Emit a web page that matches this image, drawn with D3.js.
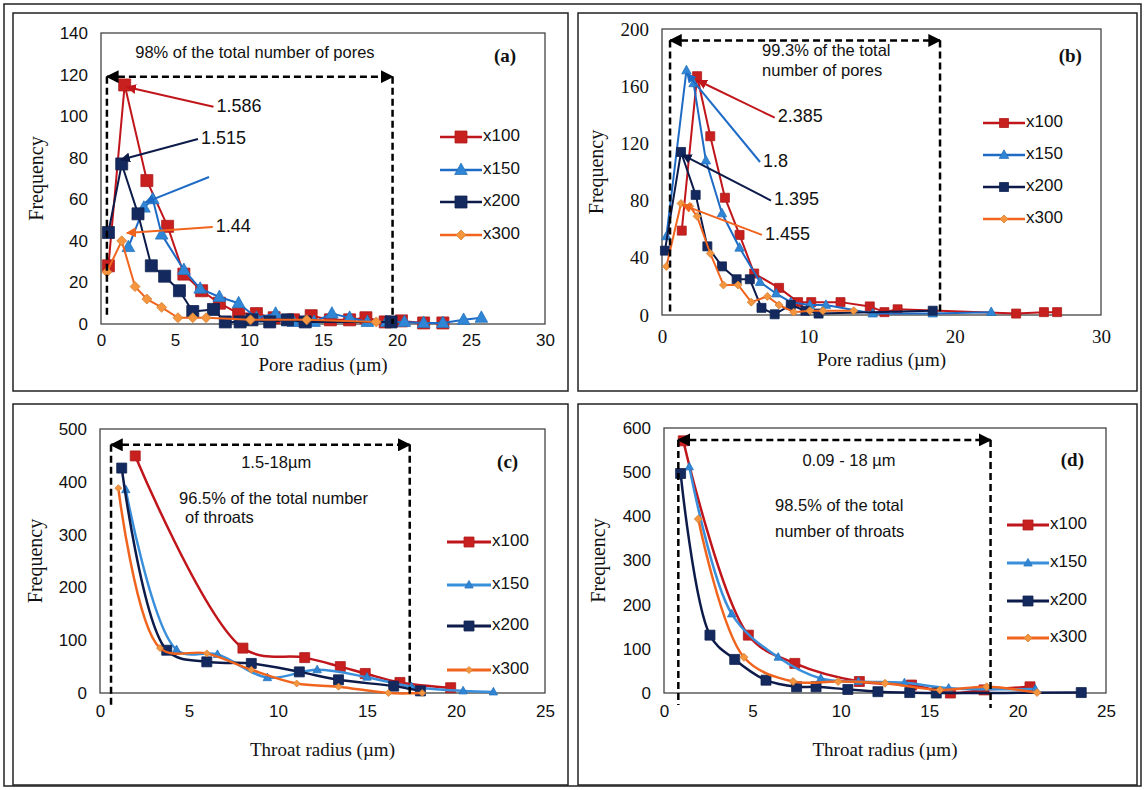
<!DOCTYPE html>
<html><head><meta charset="utf-8">
<script src="https://cdn.jsdelivr.net/npm/d3@7"></script>
<style>body{margin:0;background:#fff;} svg{display:block;}</style>
</head><body><svg id="c" width="1145" height="790"></svg>
<script>
// ---------- DATA ----------
const seriesNames = ["x100", "x150", "x200", "x300"];

// (a) pore radius, first sample
const a100 = [[0.5,28],[1.6,115],[3.1,69],[4.5,47],[5.6,24],[6.8,16],[8.0,10],[9.3,5],[10.5,5],[11.7,3],[13.0,2],[14.2,4],[15.5,2],[16.8,2],[17.9,3],[19.2,1],[20.3,1.5],[21.8,0.5],[23.1,0.5]];
const a150 = [[1.85,37],[2.9,56],[3.5,60],[4.1,43],[5.6,26],[6.7,17],[8.0,13],[9.3,10],[10.5,3],[11.8,5],[13.0,1],[14.4,1],[15.6,5],[16.8,3],[18.0,1],[19.3,1],[20.5,1],[21.8,0.5],[23.1,0.5],[24.5,2],[25.7,3]];
const a200 = [[0.5,44],[1.4,77],[2.5,53],[3.4,28],[4.3,23],[5.3,16],[6.2,6],[7.6,7],[8.4,1],[9.4,1],[10.2,2],[11.4,1],[12.6,2],[13.8,1],[19.6,1]];
const a300 = [[0.4,25],[1.4,40],[2.3,18],[3.1,12],[4.1,8],[5.2,3],[6.2,3],[7.1,3],[10.1,2],[13.9,2],[18.6,1]];

// (b) pore radius, second sample
const b100 = [[1.35,59],[2.4,167],[3.3,125],[4.3,82],[5.3,56],[6.3,29],[8.0,19],[9.3,9],[10.2,9],[12.2,9],[14.2,6],[15.2,2],[16.1,4],[24.2,1],[26.1,2],[27.0,2]];
const b150 = [[0.3,55],[1.67,171],[2.16,162],[3.0,108],[4.1,71],[5.3,47],[6.7,23],[7.8,15],[8.8,9],[10.1,7],[11.2,7],[14.4,1],[18.5,1],[22.5,2]];
const b200 = [[0.2,45],[1.3,114],[2.3,84],[3.1,48],[4.1,34],[5.1,25],[6.0,25],[6.8,5],[7.7,0.5],[8.8,7],[9.8,3],[10.7,1],[18.5,3]];
const b300 = [[0.3,34],[1.3,78],[1.9,76],[2.4,69],[3.3,43],[4.2,21],[5.2,21],[6.1,9],[7.2,13],[8.0,7],[9.0,2],[10.1,3],[11.0,3],[13.1,3]];

// (c) throat radius, first sample
const c100 = [[1.98,449],[8.03,85],[11.5,67],[13.5,50],[14.9,37],[16.85,20],[19.7,10]];
const c150 = [[1.45,385],[4.3,82],[6.6,73],[9.4,29],[12.2,44],[15.0,30],[17.5,12],[20.4,4],[22.1,2]];
const c200 = [[1.22,426],[3.75,81],[6.0,59],[8.5,56],[11.2,40],[13.4,25],[16.5,13],[18.0,4]];
const c300 = [[1.03,388],[3.37,85],[6.0,75],[8.5,44],[11.05,18],[13.4,12],[16.2,0],[18.1,0]];

// (d) throat radius, second sample
const d100 = [[1.09,571],[4.77,131],[7.4,67],[11.05,26],[14.0,18],[16.2,0],[18.1,7],[20.7,14]];
const d150 = [[1.43,512],[3.83,179],[6.46,81],[8.87,33],[11.0,26],[13.6,23],[16.1,11],[21.0,9]];
const d200 = [[0.94,497],[2.6,131],[4.0,76],[5.77,29],[7.5,14],[8.6,14],[10.4,8],[12.1,3],[13.9,1],[15.4,0],[23.6,1]];
const d300 = [[1.94,394],[4.52,81],[7.3,26],[9.85,26],[12.5,22],[15.6,7],[18.25,14],[21.1,1]];

// tick labels
const aXTicks = [0,5,10,15,20,25,30];
const aYTicks = [0,20,40,60,80,100,120,140];
const bXTicks = [0,10,20,30];
const bYTicks = [0,40,80,120,160,200];
const cXTicks = [0,5,10,15,20,25];
const cYTicks = [0,100,200,300,400,500];
const dXTicks = [0,5,10,15,20,25];
const dYTicks = [0,100,200,300,400,500,600];

// annotation labels [text, lineStart(x,y), tip(x,y), seriesIndex]
const aPeaks = [["1.586",[7.6,104.5],[1.75,114],0],["1.515",[6.55,89],[1.35,79],2],["",[7.3,70.7],[3.0,58.5],1],["1.44",[7.55,46.7],[1.75,43.8],3]];
const bPeaks = [["2.385",[7.7,138],[2.45,164],0],["1.8",[6.7,107],[1.7,169],1],["1.395",[7.45,80],[1.4,112],2],["1.455",[6.83,56],[1.4,77],3]];

// ---------- STYLE ----------
const lineCol = ["#C0161B", "#1E6BC6", "#0D1B4A", "#F0641E"];
const markCol = ["#C8201E", "#2F86D6", "#14295E", "#F5963F"];
const lineColLight150 = "#3A8FDA";

const svg = d3.select("#c");
const defs = svg.append("defs");
function arrowMarker(id, col, size) {
  defs.append("marker").attr("id", id).attr("viewBox", "0 0 10 10").attr("refX", 9).attr("refY", 5)
    .attr("markerWidth", size).attr("markerHeight", size).attr("markerUnits", "userSpaceOnUse")
    .attr("orient", "auto-start-reverse")
    .append("path").attr("d", "M0,0L10,5L0,10z").attr("fill", col);
}
arrowMarker("arrK", "#000", 13);
lineCol.forEach((c, i) => arrowMarker("arr" + i, c, 10));

svg.append("rect").attr("x", 4).attr("y", 4).attr("width", 1137).attr("height", 782)
  .attr("fill", "none").attr("stroke", "#222").attr("stroke-width", 1.5);

function markerPath(shape, s) {
  const h = s / 2;
  if (shape === "sq") return `M${-h},${-h}H${h}V${h}H${-h}Z`;
  if (shape === "tri") return `M0,${-h * 1.15}L${h * 1.05},${h * 0.75}L${-h * 1.05},${h * 0.75}Z`;
  return `M0,${-h}L${h},0L0,${h}L${-h},0Z`;
}
const shapes = ["sq", "tri", "sq", "dia"];

const sansFont = "Liberation Sans, Arial, sans-serif";
const serifFont = "Liberation Serif, Times New Roman, serif";

const panels = [
  { label: "(a)", frame: [13, 13, 568, 391], plot: [101, 545, 33, 324], xDom: [0, 30], yDom: [0, 140],
    xTicks: aXTicks, yTicks: aYTicks, tickFont: sansFont, tickSize: 17, xPad: 10,
    xTitle: "Pore radius (µm)", xTitleY: 367, yTitleX: 38, series: [a100, a150, a200, a300],
    curve: d3.curveLinear, ms: [12, 12, 12, 10], lw: 2, col150: lineCol[1],
    legend: { x1: 440, x2: 482, ys: [137, 170, 202, 235] },
    box: { x1: 0.4, x2: 19.7, yTop: 119, yB1: 3, yB2: 0 },
    texts: [["98% of the total number of pores", 10.4, 130, "middle"]],
    labelPos: [27.3, 128], peaks: aPeaks },
  { label: "(b)", frame: [578, 13, 1137, 391], plot: [662, 1101, 29, 315], xDom: [0, 30], yDom: [0, 200],
    xTicks: bXTicks, yTicks: bYTicks, tickFont: serifFont, tickSize: 19, xPad: 15,
    xTitle: "Pore radius (µm)", xTitleY: 362, yTitleX: 598, series: [b100, b150, b200, b300],
    curve: d3.curveLinear, ms: [9, 9, 9, 8], lw: 2, col150: lineCol[1],
    legend: { x1: 983, x2: 1025, ys: [123, 155, 187, 219] },
    box: { x1: 0.55, x2: 19.0, yTop: 192, yB1: 0, yB2: 0 },
    texts: [["99.3% of the total", 6.84, 184, "start"], ["number of pores", 6.84, 170, "start"]],
    labelPos: [27.9, 180], peaks: bPeaks },
  { label: "(c)", frame: [13, 404, 568, 785], plot: [100, 545, 429, 693], xDom: [0, 25], yDom: [0, 500],
    xTicks: cXTicks, yTicks: cYTicks, tickFont: sansFont, tickSize: 17, xPad: 12,
    xTitle: "Throat radius (µm)", xTitleY: 752, yTitleX: 37, series: [c100, c150, c200, c300],
    curve: d3.curveCatmullRom.alpha(0.5), ms: [10, 8, 10, 7], lw: 2.5, col150: lineColLight150,
    legend: { x1: 447, x2: 491, ys: [542, 585, 626, 670] },
    box: { x1: 0.62, x2: 17.4, yTop: 470, yB1: -28, yB2: -8 },
    texts: [["1.5-18µm", 9.9, 435, "middle"], ["96.5% of the total number", 4.44, 367, "start"], ["of throats", 4.78, 331, "start"]],
    labelPos: [22.9, 435], peaks: [] },
  { label: "(d)", frame: [578, 404, 1137, 785], plot: [664, 1106, 428, 693], xDom: [0, 25], yDom: [0, 600],
    xTicks: dXTicks, yTicks: dYTicks, tickFont: sansFont, tickSize: 17, xPad: 12,
    xTitle: "Throat radius (µm)", xTitleY: 752, yTitleX: 600, series: [d100, d150, d200, d300],
    curve: d3.curveCatmullRom.alpha(0.5), ms: [10, 8, 10, 8], lw: 2.5, col150: lineColLight150,
    legend: { x1: 1007, x2: 1049, ys: [525, 563, 601, 638] },
    box: { x1: 0.81, x2: 18.47, yTop: 573, yB1: -27, yB2: -34 },
    texts: [["0.09 - 18 µm", 10.46, 523, "middle"], ["98.5% of the total", 6.28, 421, "start"], ["number of throats", 6.28, 364, "start"]],
    labelPos: [23.1, 523], peaks: [] }
];

panels.forEach(p => {
  const [fx1, fy1, fx2, fy2] = p.frame;
  svg.append("rect").attr("x", fx1).attr("y", fy1).attr("width", fx2 - fx1).attr("height", fy2 - fy1)
    .attr("fill", "none").attr("stroke", "#222").attr("stroke-width", 1.5);

  const x = d3.scaleLinear().domain(p.xDom).range([p.plot[0], p.plot[1]]);
  const y = d3.scaleLinear().domain(p.yDom).range([p.plot[3], p.plot[2]]);

  // axes
  const gx = svg.append("g").attr("transform", `translate(0,${p.plot[3]})`)
    .call(d3.axisBottom(x).tickValues(p.xTicks).tickSize(0).tickPadding(p.xPad).tickFormat(d3.format("d")));
  gx.select(".domain").remove();
  gx.selectAll("text").attr("font-family", p.tickFont).attr("font-size", p.tickSize).attr("fill", "#111");
  const gy = svg.append("g").attr("transform", `translate(${p.plot[0]},0)`)
    .call(d3.axisLeft(y).tickValues(p.yTicks).tickSize(0).tickPadding(13).tickFormat(d3.format("d")));
  gy.select(".domain").remove();
  gy.selectAll("text").attr("font-family", p.tickFont).attr("font-size", p.tickSize).attr("fill", "#111");

  // plot area box
  svg.append("rect").attr("x", p.plot[0]).attr("y", p.plot[2])
    .attr("width", p.plot[1] - p.plot[0]).attr("height", p.plot[3] - p.plot[2])
    .attr("fill", "none").attr("stroke", "#444").attr("stroke-width", 1.3);

  // titles
  svg.append("text").attr("x", (p.plot[0] + p.plot[1]) / 2).attr("y", p.xTitleY)
    .attr("text-anchor", "middle").attr("dominant-baseline", "middle")
    .attr("font-family", serifFont).attr("font-size", 19).attr("fill", "#111").text(p.xTitle);
  const ym = (p.plot[2] + p.plot[3]) / 2;
  svg.append("text").attr("transform", `translate(${p.yTitleX},${ym}) rotate(-90)`)
    .attr("text-anchor", "middle").attr("dominant-baseline", "middle")
    .attr("font-family", serifFont).attr("font-size", 20).attr("fill", "#111").text("Frequency");

  // series
  const line = d3.line().x(d => x(d[0])).y(d => y(d[1])).curve(p.curve);
  p.series.forEach((data, i) => {
    const lc = i === 1 ? p.col150 : lineCol[i];
    svg.append("path").datum(data).attr("d", line).attr("fill", "none")
      .attr("stroke", lc).attr("stroke-width", p.lw).attr("stroke-linejoin", "round");
    svg.selectAll(null).data(data).enter().append("path")
      .attr("transform", d => `translate(${x(d[0])},${y(d[1])})`)
      .attr("d", markerPath(shapes[i], p.ms[i]))
      .attr("fill", markCol[i]).attr("stroke", d3.color(markCol[i]).darker(0.4)).attr("stroke-width", 0.8);
  });

  // dashed range box
  const b = p.box;
  const dash = "7,4";
  svg.append("line").attr("x1", x(b.x1)).attr("x2", x(b.x1)).attr("y1", y(b.yTop)).attr("y2", y(b.yB1))
    .attr("stroke", "#000").attr("stroke-width", 2.5).attr("stroke-dasharray", dash);
  svg.append("line").attr("x1", x(b.x2)).attr("x2", x(b.x2)).attr("y1", y(b.yTop)).attr("y2", y(b.yB2))
    .attr("stroke", "#000").attr("stroke-width", 2.5).attr("stroke-dasharray", dash);
  svg.append("line").attr("x1", x(b.x1)).attr("x2", x(b.x2)).attr("y1", y(b.yTop)).attr("y2", y(b.yTop))
    .attr("stroke", "#000").attr("stroke-width", 2.5).attr("stroke-dasharray", dash)
    .attr("marker-start", "url(#arrK)").attr("marker-end", "url(#arrK)");

  // annotation texts
  p.texts.forEach(t => {
    svg.append("text").attr("x", x(t[1])).attr("y", y(t[2])).attr("text-anchor", t[3])
      .attr("dominant-baseline", "middle").attr("font-family", sansFont).attr("font-size", 16.5)
      .attr("fill", "#111").text(t[0]);
  });
  svg.append("text").attr("x", x(p.labelPos[0])).attr("y", y(p.labelPos[1]))
    .attr("text-anchor", "middle").attr("dominant-baseline", "middle")
    .attr("font-family", serifFont).attr("font-weight", "bold").attr("font-size", 19)
    .attr("fill", "#111").text(p.label);

  // peak annotations
  p.peaks.forEach(pk => {
    const i = pk[3];
    const lc = i === 1 ? p.col150 : lineCol[i];
    svg.append("line").attr("x1", x(pk[1][0])).attr("y1", y(pk[1][1]))
      .attr("x2", x(pk[2][0])).attr("y2", y(pk[2][1]))
      .attr("stroke", lc).attr("stroke-width", 2).attr("marker-end", `url(#arr${i})`);
    if (pk[0]) {
      svg.append("text").attr("x", x(pk[1][0]) + 3).attr("y", y(pk[1][1]))
        .attr("dominant-baseline", "middle").attr("font-family", sansFont).attr("font-size", 18)
        .attr("fill", "#111").text(pk[0]);
    }
  });

  // legend
  const L = p.legend;
  seriesNames.forEach((name, i) => {
    const lc = i === 1 ? p.col150 : lineCol[i];
    const yy = L.ys[i];
    svg.append("line").attr("x1", L.x1).attr("x2", L.x2).attr("y1", yy).attr("y2", yy)
      .attr("stroke", lc).attr("stroke-width", p.lw + 0.5);
    svg.append("path").attr("transform", `translate(${(L.x1 + L.x2) / 2},${yy})`)
      .attr("d", markerPath(shapes[i], p.ms[i]))
      .attr("fill", markCol[i]).attr("stroke", d3.color(markCol[i]).darker(0.4)).attr("stroke-width", 0.8);
    svg.append("text").attr("x", L.x2 + 1).attr("y", yy).attr("dominant-baseline", "middle")
      .attr("font-family", sansFont).attr("font-size", 17).attr("fill", "#111").text(name);
  });
});
</script>
</body></html>
